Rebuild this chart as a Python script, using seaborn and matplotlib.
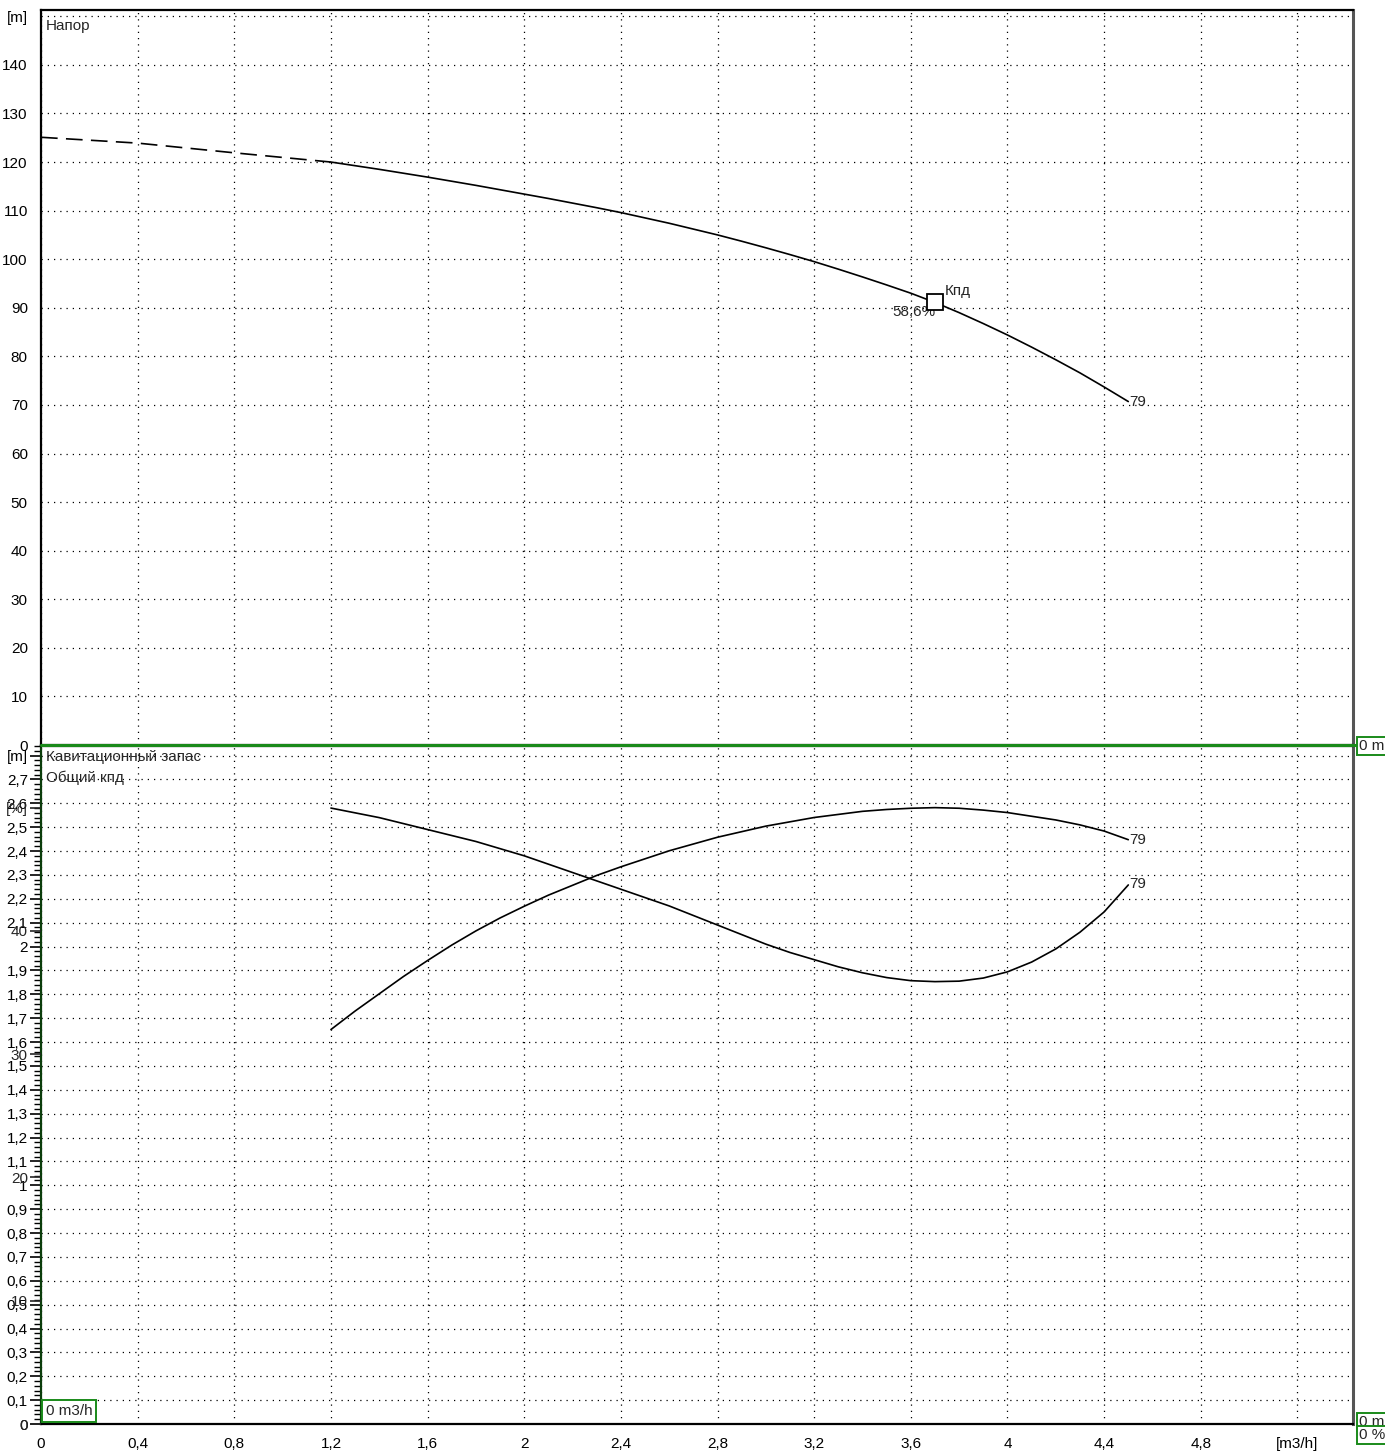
import numpy as np
import pandas as pd
import matplotlib
matplotlib.use("Agg")
import matplotlib.pyplot as plt
from matplotlib.lines import Line2D
from matplotlib.ticker import FixedLocator, MultipleLocator
import seaborn as sns

# ---- pump curve data -------------------------------------------------------
flow_extrap = [0.0, 0.4, 0.8, 1.2]
head_extrap = [125.1, 123.9, 121.9, 120.0]

flow = [1.2, 1.3, 1.4, 1.5, 1.6, 1.7, 1.8, 1.9, 2.0, 2.1, 2.2, 2.3, 2.4, 2.5, 2.6, 2.7,
        2.8, 2.9, 3.0, 3.1, 3.2, 3.3, 3.4, 3.5, 3.6, 3.7, 3.8, 3.9, 4.0, 4.1, 4.2, 4.3,
        4.4, 4.5]
head = [120.0, 119.25, 118.5, 117.7, 116.9, 116.05, 115.2, 114.3, 113.4, 112.5, 111.55,
        110.6, 109.6, 108.5, 107.4, 106.2, 105.0, 103.7, 102.35, 100.95, 99.5, 97.95,
        96.35, 94.7, 93.0, 91.1, 89.0, 86.75, 84.4, 81.9, 79.3, 76.6, 73.7, 70.7]
npsh = [2.58, 2.56, 2.54, 2.515, 2.49, 2.465, 2.44, 2.41, 2.38, 2.345, 2.31, 2.275, 2.24,
        2.205, 2.17, 2.13, 2.09, 2.05, 2.01, 1.975, 1.945, 1.915, 1.89, 1.87, 1.857, 1.853,
        1.855, 1.868, 1.894, 1.935, 1.99, 2.06, 2.145, 2.258]
eff = [32.0, 33.5, 34.9, 36.3, 37.6, 38.85, 40.0, 41.05, 42.0, 42.9, 43.7, 44.5, 45.2,
       45.85, 46.5, 47.05, 47.6, 48.05, 48.5, 48.85, 49.2, 49.45, 49.7, 49.85, 49.95, 50.0,
       49.95, 49.8, 49.6, 49.3, 49.0, 48.6, 48.1, 47.4]

bep_flow = 3.7
bep_head = 91.1
bep_label = "58,6%"
curve_label = "79"

x_ticks = [0, 0.4, 0.8, 1.2, 1.6, 2.0, 2.4, 2.8, 3.2, 3.6, 4.0, 4.4, 4.8, 5.2]
x_ticklabels = ["0", "0,4", "0,8", "1,2", "1,6", "2", "2,4", "2,8", "3,2", "3,6", "4", "4,4", "4,8", "[m3/h]"]
head_ticks = list(range(0, 151, 10))
head_ticklabels = [str(v) for v in range(0, 141, 10)] + ["[m]"]
npsh_ticks = [round(v * 0.1, 1) for v in range(0, 29)]
npsh_ticklabels = ["0"] + [f"{v:.1f}".replace(".", ",") for v in npsh_ticks[1:-1]] + ["[m]"]
npsh_ticklabels[10] = "1"
npsh_ticklabels[20] = "2"
eff_ticks = [0, 10, 20, 30, 40, 50]
eff_ticklabels = ["0", "10", "20", "30", "40", "[%]"]

df_extrap = pd.DataFrame({"Q": flow_extrap, "H": head_extrap})
df = pd.DataFrame({"Q": flow, "H": head, "NPSH": npsh, "eta": eff})

# ---- style -----------------------------------------------------------------
sns.set_style("white")
plt.rcParams["font.family"] = ["Liberation Sans", "DejaVu Sans"]
FS = 11
plt.rcParams["font.size"] = FS

W, H = 1385, 1452
fig = plt.figure(figsize=(W / 100, H / 100), dpi=100)


def fx(px):
    return px / W


def fy(py):
    return 1 - py / H


x_left, x_right = 41, 1353
ax_top = fig.add_axes([fx(x_left), fy(745), fx(x_right - x_left), fy(10) - fy(745)])
ax_bot = fig.add_axes([fx(x_left), fy(1424), fx(x_right - x_left), fy(746) - fy(1424)])
ax_pct = ax_bot.twinx()

XMAX = 5.43
grid_kw = dict(color="black", linewidth=0.9, linestyle=(0, (1, 4)))

for ax in (ax_top, ax_bot):
    ax.set_xlim(0, XMAX)
    ax.xaxis.set_major_locator(FixedLocator(x_ticks))
    ax.xaxis.set_minor_locator(MultipleLocator(0.1))
    ax.grid(True, which="major", **grid_kw)
    for s in ("left", "top", "bottom"):
        ax.spines[s].set_color("black")
        ax.spines[s].set_linewidth(1.6)
    ax.spines["right"].set_color("#555555")
    ax.spines["right"].set_linewidth(2.2)
    ax.tick_params(axis="both", which="major", direction="out", length=8, width=1.2,
                   colors="black", labelsize=FS, pad=1.5)
    ax.tick_params(axis="both", which="minor", direction="out", length=5, width=1.0,
                   colors="black")

# ---- head panel ------------------------------------------------------------
ax_top.set_ylim(0, 151.3)
ax_top.set_yticks(head_ticks)
ax_top.set_yticklabels(head_ticklabels)
ax_top.yaxis.set_minor_locator(MultipleLocator(2))
ax_top.set_xticklabels([])
ax_top.tick_params(axis="x", which="both", length=0)
ax_top.grid(False, axis="y")
for v in head_ticks[1:]:
    ax_top.axhline(v, **grid_kw)

sns.lineplot(data=df_extrap, x="Q", y="H", ax=ax_top, color="black", linewidth=1.2,
             linestyle=(0, (10, 5)), sort=False, estimator=None)
sns.lineplot(data=df, x="Q", y="H", ax=ax_top, color="black", linewidth=1.2,
             sort=False, estimator=None)
ax_top.plot([bep_flow], [bep_head], marker="s", markersize=12, markerfacecolor="white",
            markeredgecolor="black", markeredgewidth=1.3, linestyle="none", zorder=5)
ax_top.annotate("Кпд", (bep_flow, bep_head), xytext=(7, 3), textcoords="offset points",
                ha="left", va="bottom", fontsize=FS)
ax_top.annotate(bep_label, (bep_flow, bep_head), xytext=(0, -2), textcoords="offset points",
                ha="right", va="top", fontsize=FS)
ax_top.annotate(curve_label, (flow[-1], head[-1]), xytext=(1, 0), textcoords="offset points",
                ha="left", va="center", fontsize=FS)
ax_top.text(0.004, 0.988, "Напор", transform=ax_top.transAxes, ha="left", va="top",
            fontsize=FS)
ax_top.set_xlabel("")
ax_top.set_ylabel("")

# ---- NPSH / efficiency panel ----------------------------------------------
ax_bot.set_ylim(0, 2.84)
ax_bot.set_yticks(npsh_ticks)
ax_bot.set_yticklabels(npsh_ticklabels)
ax_bot.yaxis.set_minor_locator(MultipleLocator(0.02))
ax_bot.set_xticklabels(x_ticklabels)
ax_bot.grid(False, axis="y")
for v in npsh_ticks[1:]:
    ax_bot.axhline(v, **grid_kw)
ax_bot.spines["left"].set_color("#0b3d0b")

ax_pct.set_ylim(0, 55.0)
ax_pct.yaxis.set_ticks_position("left")
ax_pct.yaxis.set_label_position("left")
ax_pct.set_yticks(eff_ticks)
ax_pct.set_yticklabels(eff_ticklabels)
ax_pct.tick_params(axis="y", which="major", direction="out", length=8, width=1.2,
                   labelsize=FS, pad=1.5)
for s in ax_pct.spines.values():
    s.set_visible(False)
ax_pct.grid(False)

sns.lineplot(data=df, x="Q", y="NPSH", ax=ax_bot, color="black", linewidth=1.2,
             sort=False, estimator=None)
sns.lineplot(data=df, x="Q", y="eta", ax=ax_pct, color="black", linewidth=1.2,
             sort=False, estimator=None)
ax_bot.annotate(curve_label, (flow[-1], npsh[-1]), xytext=(1, 1), textcoords="offset points",
                ha="left", va="center", fontsize=FS)
ax_pct.annotate(curve_label, (flow[-1], eff[-1]), xytext=(1, 0), textcoords="offset points",
                ha="left", va="center", fontsize=FS)
ax_bot.text(0.004, 0.994, "Кавитационный запас", transform=ax_bot.transAxes, ha="left",
            va="top", fontsize=FS)
ax_bot.text(0.004, 0.964, "Общий кпд", transform=ax_bot.transAxes, ha="left", va="top",
            fontsize=FS)
for a in (ax_bot, ax_pct):
    a.set_xlabel("")
    a.set_ylabel("")

# ---- zero-cursor markers ---------------------------------------------------
green = "#1a8a1a"
fig.add_artist(Line2D([fx(x_left), fx(1358)], [fy(745), fy(745)], color=green, linewidth=2.2))
box = dict(boxstyle="square,pad=0.15", facecolor="white", edgecolor=green, linewidth=1.4)
fig.text(fx(1359), fy(746), "0 m", ha="left", va="center", fontsize=FS, bbox=box)
fig.text(fx(1359), fy(1422), "0 m", ha="left", va="center", fontsize=FS, bbox=box)
fig.text(fx(1359), fy(1435), "0 %", ha="left", va="center", fontsize=FS, bbox=box)
fig.text(fx(46), fy(1411), "0 m3/h", ha="left", va="center", fontsize=FS,
         bbox=dict(boxstyle="square,pad=0.25", facecolor="white", edgecolor=green, linewidth=1.4))

fig.savefig("out.png", dpi=100)
